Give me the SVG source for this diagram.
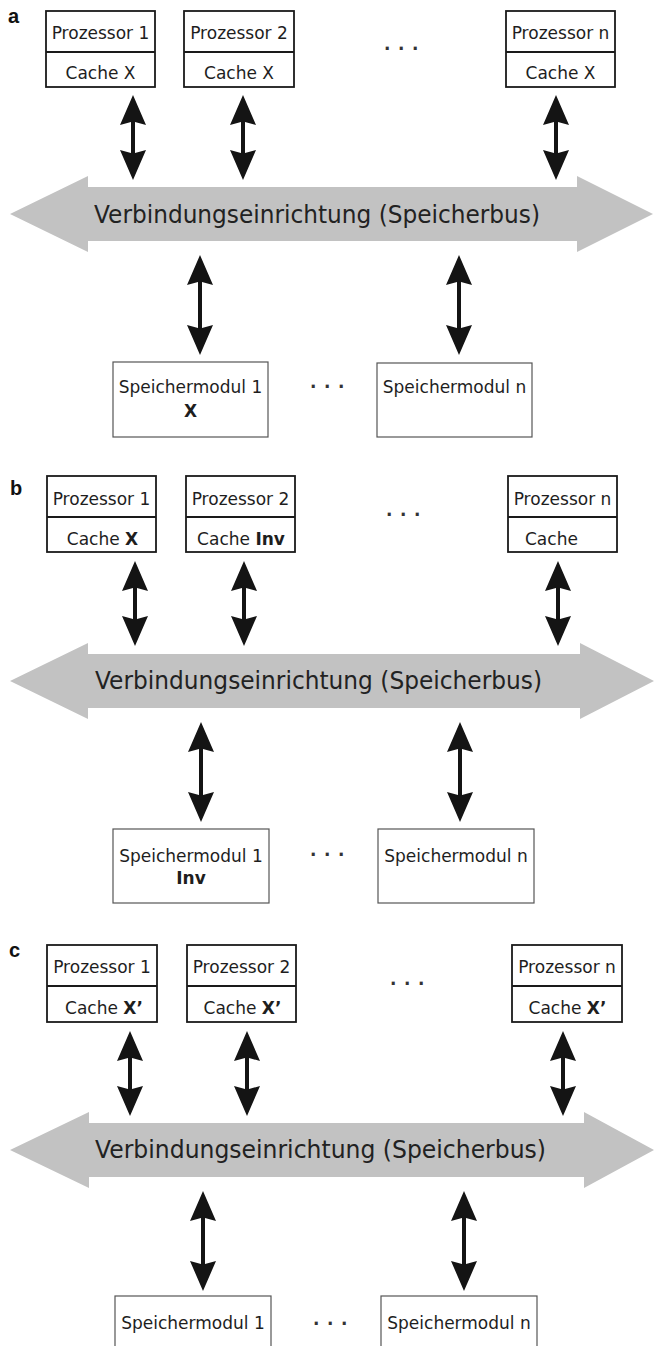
<svg xmlns="http://www.w3.org/2000/svg" xmlns:xlink="http://www.w3.org/1999/xlink" width="654" height="1346" viewBox="0 0 654 1346">
<style>
  .pbox { fill: #ffffff; stroke: #1a1a1a; stroke-width: 1.8; }
  .pdiv { stroke: #1a1a1a; stroke-width: 1.8; }
  .mbox { fill: #ffffff; stroke: #555555; stroke-width: 1.2; }
  .t { font-family: "DejaVu Sans", Verdana, sans-serif; font-size: 17px; fill: #1e1e1e; }
  .c { text-anchor: middle; }
  .b { font-weight: bold; }
  .dots { font-family: "DejaVu Sans", Verdana, sans-serif; font-size: 17px; font-weight: bold; fill: #333333; letter-spacing: 7.6px; }
  .lbl { font-family: "Liberation Sans", Arial, sans-serif; font-size: 20px; font-weight: bold; fill: #111111; }
  .bus { fill: #c2c2c2; }
  .bust { font-family: "DejaVu Sans", Verdana, sans-serif; font-size: 25px; fill: #222222; }
  .arr { fill: #141414; }
</style>
<defs>
  <path id="arr85" d="M0,0 L13,30 L2,27 L2,58 L13,55 L0,85 L-13,55 L-2,58 L-2,27 L-13,30 Z"/>
  <path id="arr100" d="M0,0 L13,30 L2,27 L2,73 L13,70 L0,100 L-13,70 L-2,73 L-2,27 L-13,30 Z"/>
</defs>

<!-- ================= Panel a ================= -->
<text class="lbl" x="8" y="23">a</text>

<g id="a-bus">
  <path class="bus" d="M10,214 L88,176 L88,187 L577,187 L577,176 L653,214 L577,252 L577,241 L88,241 L88,252 Z"/>
  <text class="bust" x="94" y="223" textLength="446" lengthAdjust="spacingAndGlyphs">Verbindungseinrichtung (Speicherbus)</text>
</g>
<g id="a-p1">
  <rect class="pbox" x="46" y="11" width="109" height="76"/>
  <line class="pdiv" x1="46" y1="52" x2="155" y2="52"/>
  <text class="t c" x="100.5" y="39">Prozessor 1</text>
  <text class="t c" x="100.5" y="79">Cache X</text>
</g>
<g id="a-p2">
  <rect class="pbox" x="184" y="11" width="110" height="76"/>
  <line class="pdiv" x1="184" y1="52" x2="294" y2="52"/>
  <text class="t c" x="239" y="39">Prozessor 2</text>
  <text class="t c" x="239" y="79">Cache X</text>
</g>
<g id="a-pn">
  <rect class="pbox" x="506" y="11" width="109" height="76"/>
  <line class="pdiv" x1="506" y1="52" x2="615" y2="52"/>
  <text class="t c" x="560.5" y="39">Prozessor n</text>
  <text class="t c" x="560.5" y="79">Cache X</text>
</g>
<text class="dots" x="384" y="50">...</text>
<g id="a-m1">
  <rect class="mbox" x="113" y="362" width="155" height="75"/>
  <text class="t c" x="190.5" y="393">Speichermodul 1</text>
  <text class="t c b" x="190.5" y="417">X</text>
</g>
<g id="a-mn">
  <rect class="mbox" x="377" y="363" width="155" height="74"/>
  <text class="t c" x="454.5" y="393">Speichermodul n</text>
</g>
<text class="dots" x="310" y="388">...</text>
<g id="a-connectors" class="arr">
  <use xlink:href="#arr85" href="#arr85" x="133" y="95"/>
  <use xlink:href="#arr85" href="#arr85" x="243" y="95"/>
  <use xlink:href="#arr85" href="#arr85" x="556" y="95"/>
  <use xlink:href="#arr100" href="#arr100" x="200" y="255"/>
  <use xlink:href="#arr100" href="#arr100" x="459" y="255"/>
</g>

<!-- ================= Panel b ================= -->
<text class="lbl" x="10" y="495">b</text>

<g id="b-bus">
  <path class="bus" d="M10,681 L88,643 L88,654 L580,654 L580,643 L654,681 L580,719 L580,708 L88,708 L88,719 Z"/>
  <text class="bust" x="95" y="689" textLength="447" lengthAdjust="spacingAndGlyphs">Verbindungseinrichtung (Speicherbus)</text>
</g>
<g id="b-p1">
  <rect class="pbox" x="47" y="476" width="109" height="76"/>
  <line class="pdiv" x1="47" y1="517" x2="156" y2="517"/>
  <text class="t c" x="101.5" y="505">Prozessor 1</text>
  <text class="t c" x="102.5" y="545">Cache <tspan class="b">X</tspan></text>
</g>
<g id="b-p2">
  <rect class="pbox" x="186" y="476" width="109" height="76"/>
  <line class="pdiv" x1="186" y1="517" x2="295" y2="517"/>
  <text class="t c" x="240.5" y="505">Prozessor 2</text>
  <text class="t c" x="241" y="545">Cache <tspan class="b">Inv</tspan></text>
</g>
<g id="b-pn">
  <rect class="pbox" x="508" y="476" width="109" height="76"/>
  <line class="pdiv" x1="508" y1="517" x2="617" y2="517"/>
  <text class="t c" x="562.5" y="505">Prozessor n</text>
  <text class="t" x="525" y="545">Cache</text>
</g>
<text class="dots" x="386" y="516">...</text>
<g id="b-m1">
  <rect class="mbox" x="113" y="829" width="156" height="74"/>
  <text class="t c" x="191" y="862">Speichermodul 1</text>
  <text class="t c b" x="191" y="884">Inv</text>
</g>
<g id="b-mn">
  <rect class="mbox" x="378" y="829" width="156" height="74"/>
  <text class="t c" x="456" y="862">Speichermodul n</text>
</g>
<text class="dots" x="310" y="856">...</text>
<g id="b-connectors" class="arr">
  <use xlink:href="#arr85" href="#arr85" x="135" y="561"/>
  <use xlink:href="#arr85" href="#arr85" x="244" y="561"/>
  <use xlink:href="#arr85" href="#arr85" x="558" y="561"/>
  <use xlink:href="#arr100" href="#arr100" x="201" y="722"/>
  <use xlink:href="#arr100" href="#arr100" x="460" y="722"/>
</g>

<!-- ================= Panel c ================= -->
<text class="lbl" x="9" y="957">c</text>

<g id="c-bus">
  <path class="bus" d="M10,1150 L89,1112 L89,1123 L584,1123 L584,1112 L654,1150 L584,1188 L584,1177 L89,1177 L89,1188 Z"/>
  <text class="bust" x="95" y="1158" textLength="451" lengthAdjust="spacingAndGlyphs">Verbindungseinrichtung (Speicherbus)</text>
</g>
<g id="c-p1">
  <rect class="pbox" x="47" y="945" width="110" height="77"/>
  <line class="pdiv" x1="47" y1="986" x2="157" y2="986"/>
  <text class="t c" x="102" y="973">Prozessor 1</text>
  <text class="t c" x="104" y="1014">Cache <tspan class="b">X’</tspan></text>
</g>
<g id="c-p2">
  <rect class="pbox" x="187" y="945" width="109" height="77"/>
  <line class="pdiv" x1="187" y1="986" x2="296" y2="986"/>
  <text class="t c" x="241.5" y="973">Prozessor 2</text>
  <text class="t c" x="242.5" y="1014">Cache <tspan class="b">X’</tspan></text>
</g>
<g id="c-pn">
  <rect class="pbox" x="512" y="945" width="110" height="77"/>
  <line class="pdiv" x1="512" y1="986" x2="622" y2="986"/>
  <text class="t c" x="567" y="973">Prozessor n</text>
  <text class="t c" x="567.5" y="1014">Cache <tspan class="b">X’</tspan></text>
</g>
<text class="dots" x="390" y="985">...</text>
<g id="c-m1">
  <rect class="mbox" x="115" y="1296" width="156" height="80"/>
  <text class="t c" x="193" y="1329">Speichermodul 1</text>
</g>
<g id="c-mn">
  <rect class="mbox" x="381" y="1296" width="156" height="80"/>
  <text class="t c" x="459" y="1329">Speichermodul n</text>
</g>
<text class="dots" x="313" y="1325">...</text>
<g id="c-connectors" class="arr">
  <use xlink:href="#arr85" href="#arr85" x="130" y="1031"/>
  <use xlink:href="#arr85" href="#arr85" x="247" y="1031"/>
  <use xlink:href="#arr85" href="#arr85" x="563" y="1031"/>
  <use xlink:href="#arr100" href="#arr100" x="203" y="1191"/>
  <use xlink:href="#arr100" href="#arr100" x="464" y="1191"/>
</g>
</svg>
